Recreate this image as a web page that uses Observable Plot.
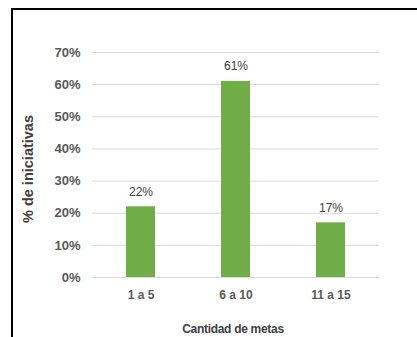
<!DOCTYPE html>
<html>
<head>
<meta charset="utf-8">
<script src="https://cdn.jsdelivr.net/npm/d3@7"></script>
<script src="https://cdn.jsdelivr.net/npm/@observablehq/plot@0.6"></script>
<style>
  html, body { margin: 0; padding: 0; background: #fff; }
  #wrap { position: relative; width: 417px; height: 337px; overflow: hidden; }
  #frame { position: absolute; left: 11px; top: 8px; width: 500px; height: 400px;
           border-top: 2px solid #000; border-left: 2px solid #000; box-sizing: border-box; pointer-events: none; }
  #wrap svg { position: absolute; left: 0; top: 0; }
</style>
</head>
<body>
<div id="wrap"><div id="frame"></div></div>
<script>
const categories = ["1 a 5", "6 a 10", "11 a 15"];
const values = [0.22, 0.61, 0.17];
const yTicks = [0, 0.1, 0.2, 0.3, 0.4, 0.5, 0.6, 0.7];
const yTitle = "% de iniciativas";
const xTitle = "Cantidad de metas";

const data = categories.map((c, i) => ({cat: c, v: values[i]}));
const boldFont = "'Liberation Sans Narrow', 'Liberation Sans', Arial, sans-serif";

const chart = Plot.plot({
  width: 417,
  height: 337,
  marginLeft: 92,
  marginRight: 38,
  marginTop: 52,
  marginBottom: 60,
  style: {background: "transparent", overflow: "visible"},
  x: {domain: categories, paddingInner: 0.69, paddingOuter: 0.345, label: null},
  y: {domain: [0, 0.7], label: null},
  marks: [
    Plot.gridY(yTicks, {stroke: "#d9d9d9", strokeOpacity: 1, strokeWidth: 1}),
    Plot.barY(data, {x: "cat", y: "v", fill: "#70ad47"}),
    Plot.text(data, {x: "cat", y: "v", text: d => Math.round(d.v * 100) + "%", dy: -15,
      fill: "#404040", fontSize: 12, fontFamily: "'Liberation Sans', Arial, sans-serif"}),
    Plot.axisY(yTicks, {tickSize: 0, tickPadding: 12, tickFormat: d => Math.round(d * 100) + "%",
      fill: "#595959", fontSize: 13, fontWeight: "bold", fontFamily: boldFont, label: null}),
    Plot.axisX({tickSize: 0, tickPadding: 13, fill: "#595959", fontSize: 12, fontWeight: "bold",
      fontFamily: boldFont, label: null}),
    Plot.text([yTitle], {frameAnchor: "left", textAnchor: "middle", dx: -64, dy: 4, rotate: -90,
      fill: "#404040", fontSize: 14.5, fontWeight: "bold", fontFamily: boldFont}),
    Plot.text([xTitle], {frameAnchor: "bottom", dx: -3, dy: 55,
      fill: "#404040", fontSize: 12, fontWeight: "bold", fontFamily: boldFont,
      style: {letterSpacing: "-0.3px"}})
  ]
});
chart.querySelectorAll("text").forEach(t => { if (t.textContent === xTitle) t.style.letterSpacing = "-0.3px"; });
document.getElementById("wrap").insertBefore(chart, document.getElementById("frame"));
</script>
</body>
</html>
